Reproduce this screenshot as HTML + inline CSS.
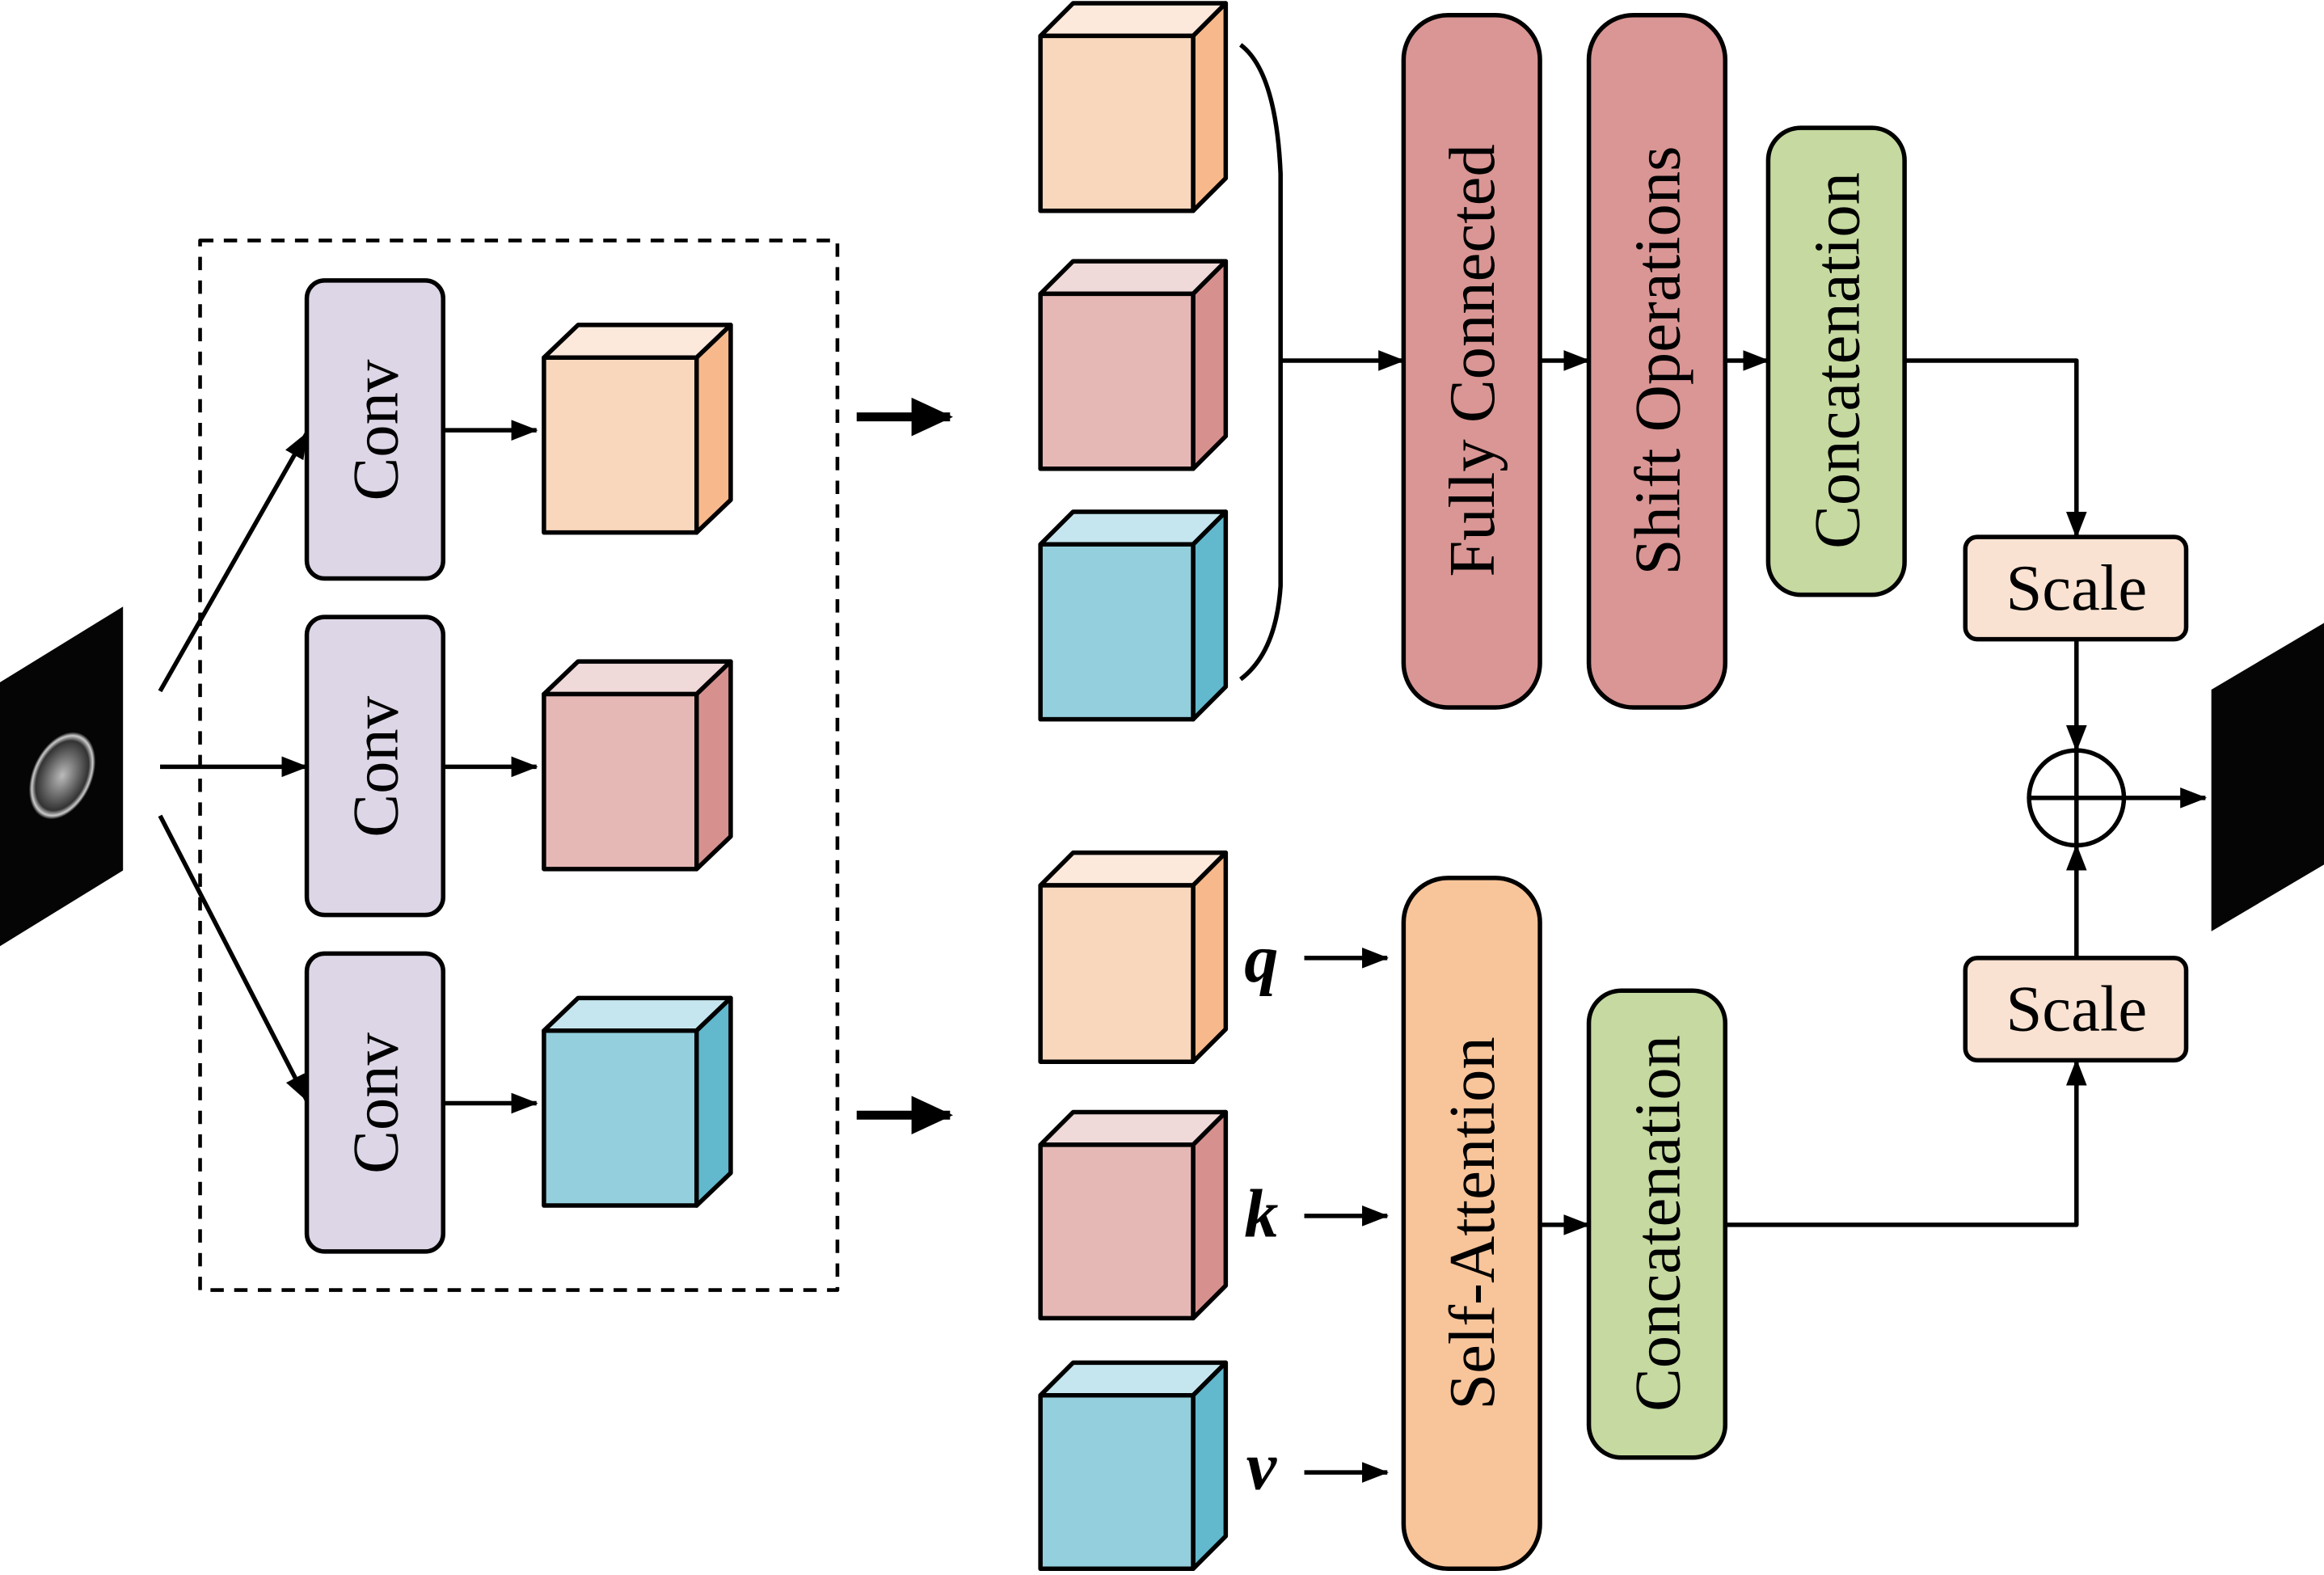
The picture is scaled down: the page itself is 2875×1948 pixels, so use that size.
<!DOCTYPE html>
<html><head><meta charset="utf-8"><style>
html,body{margin:0;padding:0;background:#fff;}
svg{display:block;}
text{font-family:"Liberation Serif",serif;fill:#000;}
</style></head><body>
<svg width="2875" height="1948" viewBox="0 0 1568 1062" xmlns="http://www.w3.org/2000/svg">
<defs>
<marker id="ah" markerWidth="18" markerHeight="14" refX="17" refY="7" orient="auto" markerUnits="userSpaceOnUse" viewBox="0 0 18 14">
<path d="M0,0 L18,7 L0,14 z" fill="#000"/></marker>
<marker id="ahb" markerWidth="28" markerHeight="26" refX="26" refY="13" orient="auto" markerUnits="userSpaceOnUse" viewBox="0 0 28 26">
<path d="M0,0 L28,13 L0,26 z" fill="#000"/></marker>
<radialGradient id="brain" cx="0.5" cy="0.5" r="0.5">
<stop offset="0" stop-color="#bbb"/><stop offset="0.5" stop-color="#666"/><stop offset="0.8" stop-color="#333"/><stop offset="0.92" stop-color="#ccc"/><stop offset="1" stop-color="#111"/></radialGradient>
</defs>
<g stroke="#000" stroke-width="3" fill="none" stroke-linejoin="round">
<polygon points="0,460 83,409 83,587 0,638" fill="#050505" stroke="none"/>
<ellipse cx="42" cy="523" rx="20" ry="31" transform="rotate(25 42 523)" fill="url(#brain)" stroke="none"/>
<polygon points="1492,465 1568,420 1568,583 1492,628" fill="#050505" stroke="none"/>

<rect x="135" y="162" width="430" height="708" stroke-dasharray="9,7" stroke-width="2.5"/>

<line x1="108" y1="466" x2="207" y2="292" marker-end="url(#ah)"/>
<line x1="108" y1="517" x2="207" y2="517" marker-end="url(#ah)"/>
<line x1="108" y1="550" x2="207" y2="742" marker-end="url(#ah)"/>

<rect x="207" y="189" width="92" height="201" rx="12" fill="#ddd6e6"/>
<rect x="207" y="416" width="92" height="201" rx="12" fill="#ddd6e6"/>
<rect x="207" y="643" width="92" height="201" rx="12" fill="#ddd6e6"/>
<line x1="299" y1="290" x2="362" y2="290" marker-end="url(#ah)"/>
<line x1="299" y1="517" x2="362" y2="517" marker-end="url(#ah)"/>
<line x1="299" y1="744" x2="362" y2="744" marker-end="url(#ah)"/>

<polygon points="367,241 390,219 493,219 470,241" fill="#fde9dc"/>
<polygon points="470,241 493,219 493,337 470,359" fill="#f7b98c"/>
<rect x="367" y="241" width="103" height="118" fill="#f9d7bc"/>
<polygon points="367,468 390,446 493,446 470,468" fill="#f0d9d9"/>
<polygon points="470,468 493,446 493,564 470,586" fill="#d6918f"/>
<rect x="367" y="468" width="103" height="118" fill="#e5b8b6"/>
<polygon points="367,695 390,673 493,673 470,695" fill="#c5e6ee"/>
<polygon points="470,695 493,673 493,791 470,813" fill="#62b8cc"/>
<rect x="367" y="695" width="103" height="118" fill="#93cfdc"/>

<line x1="578" y1="281" x2="641" y2="281" stroke-width="6" marker-end="url(#ahb)"/>
<line x1="578" y1="752" x2="641" y2="752" stroke-width="6" marker-end="url(#ahb)"/>

<polygon points="702,24 724,2 827,2 805,24" fill="#fde9dc"/>
<polygon points="805,24 827,2 827,120 805,142" fill="#f7b98c"/>
<rect x="702" y="24" width="103" height="118" fill="#f9d7bc"/>
<polygon points="702,198 724,176 827,176 805,198" fill="#f0d9d9"/>
<polygon points="805,198 827,176 827,294 805,316" fill="#d6918f"/>
<rect x="702" y="198" width="103" height="118" fill="#e5b8b6"/>
<polygon points="702,367 724,345 827,345 805,367" fill="#c5e6ee"/>
<polygon points="805,367 827,345 827,463 805,485" fill="#62b8cc"/>
<rect x="702" y="367" width="103" height="118" fill="#93cfdc"/>
<polygon points="702,597 724,575 827,575 805,597" fill="#fde9dc"/>
<polygon points="805,597 827,575 827,694 805,716" fill="#f7b98c"/>
<rect x="702" y="597" width="103" height="119" fill="#f9d7bc"/>
<polygon points="702,772 724,750 827,750 805,772" fill="#f0d9d9"/>
<polygon points="805,772 827,750 827,867 805,889" fill="#d6918f"/>
<rect x="702" y="772" width="103" height="117" fill="#e5b8b6"/>
<polygon points="702,941 724,919 827,919 805,941" fill="#c5e6ee"/>
<polygon points="805,941 827,919 827,1036 805,1058" fill="#62b8cc"/>
<rect x="702" y="941" width="103" height="117" fill="#93cfdc"/>

<path d="M837,30 Q861,48 864,117 L864,395 Q861,440 837,458"/>
<line x1="864" y1="243" x2="947" y2="243" marker-end="url(#ah)"/>

<rect x="947" y="10" width="92" height="467" rx="30" fill="#d99694"/>
<rect x="1072" y="10" width="92" height="467" rx="30" fill="#d99694"/>
<rect x="1193" y="86" width="92" height="315" rx="22" fill="#c5d9a0"/>
<line x1="1039" y1="243" x2="1072" y2="243" marker-end="url(#ah)"/>
<line x1="1164" y1="243" x2="1193" y2="243" marker-end="url(#ah)"/>
<polyline points="1285,243 1401,243 1401,362" marker-end="url(#ah)"/>

<rect x="1326" y="362" width="149" height="69" rx="8" fill="#f9e2d2"/>
<rect x="1326" y="646" width="149" height="69" rx="8" fill="#f9e2d2"/>
<line x1="1401" y1="431" x2="1401" y2="506" marker-end="url(#ah)"/>
<line x1="1401" y1="646" x2="1401" y2="570" marker-end="url(#ah)"/>
<circle cx="1401" cy="538" r="32" fill="#fff"/>
<line x1="1369" y1="538" x2="1433" y2="538"/>
<line x1="1401" y1="506" x2="1401" y2="570"/>
<line x1="1433" y1="538" x2="1488" y2="538" marker-end="url(#ah)"/>

<rect x="947" y="592" width="92" height="466" rx="30" fill="#f8c49a"/>
<rect x="1072" y="668" width="92" height="315" rx="22" fill="#c5d9a0"/>
<line x1="880" y1="646" x2="936" y2="646" marker-end="url(#ah)"/>
<line x1="880" y1="820" x2="936" y2="820" marker-end="url(#ah)"/>
<line x1="880" y1="993" x2="936" y2="993" marker-end="url(#ah)"/>
<line x1="1039" y1="826" x2="1072" y2="826" marker-end="url(#ah)"/>
<polyline points="1164,826 1401,826 1401,715" marker-end="url(#ah)"/>
</g>

<g font-size="44">
<text transform="translate(268,290) rotate(-90)" text-anchor="middle">Conv</text>
<text transform="translate(268,517) rotate(-90)" text-anchor="middle">Conv</text>
<text transform="translate(268,744) rotate(-90)" text-anchor="middle">Conv</text>
<text transform="translate(1008,243) rotate(-90)" text-anchor="middle">Fully Connected</text>
<text transform="translate(1133,243) rotate(-90)" text-anchor="middle">Shift Operations</text>
<text transform="translate(1254,243) rotate(-90)" text-anchor="middle">Concatenation</text>
<text transform="translate(1008,825) rotate(-90)" text-anchor="middle">Self-Attention</text>
<text transform="translate(1133,825) rotate(-90)" text-anchor="middle">Concatenation</text>
<text x="1401" y="411" text-anchor="middle">Scale</text>
<text x="1401" y="695" text-anchor="middle">Scale</text>
<text x="851" y="662" text-anchor="middle" font-style="italic" font-weight="bold" font-size="46">q</text>
<text x="851" y="834" text-anchor="middle" font-style="italic" font-weight="bold" font-size="46">k</text>
<text x="851" y="1004" text-anchor="middle" font-style="italic" font-weight="bold" font-size="46">v</text>
</g>
</svg>
</body></html>
